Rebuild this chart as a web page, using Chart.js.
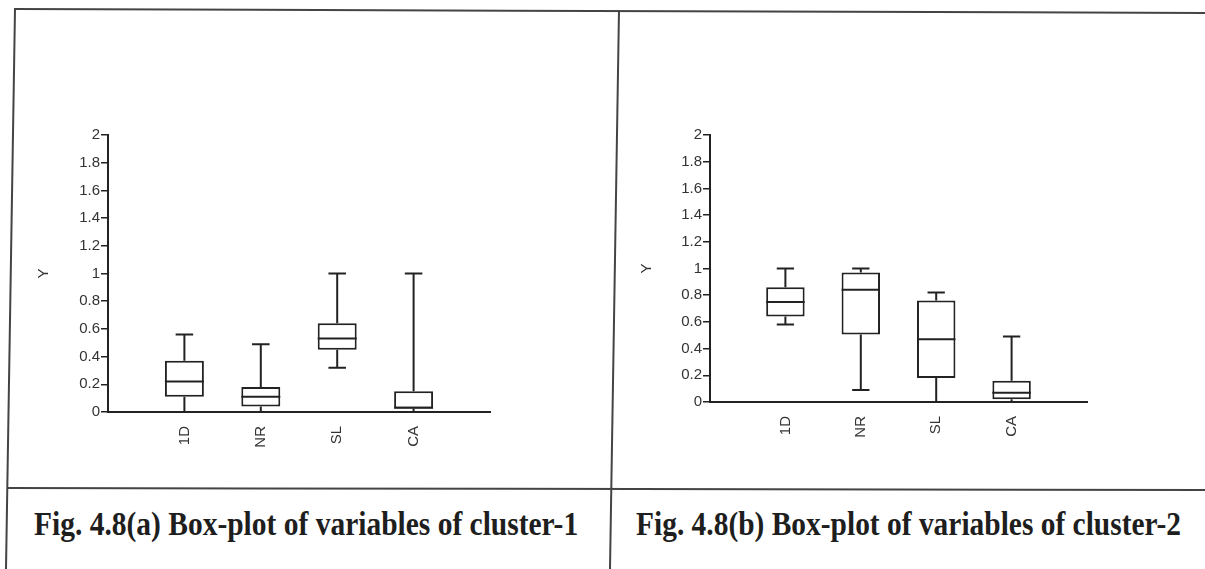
<!DOCTYPE html>
<html>
<head>
<meta charset="utf-8">
<script src="https://cdn.jsdelivr.net/npm/chart.js@4.4.1/dist/chart.umd.min.js"></script>
<style>
  html, body { margin: 0; padding: 0; background: #fff; }
  body { width: 1205px; height: 569px; position: relative; overflow: hidden; }
  canvas { position: absolute; }
  #frame { position: absolute; left: 0; top: 0; }
  .caption {
    position: absolute; top: 506px; line-height: 33px;
    font: bold 33px "Liberation Serif", "Times New Roman", serif;
    color: #1e1e1e; white-space: nowrap; transform-origin: 0 0;
  }
</style>
</head>
<body>
<svg id="frame" width="1205" height="569">
  <g stroke="#444" stroke-width="2" fill="none">
    <line x1="14" y1="9" x2="1205" y2="13"/>
    <line x1="15" y1="9" x2="6" y2="569"/>
    <line x1="619" y1="10" x2="610" y2="569"/>
    <line x1="8" y1="488" x2="1205" y2="490"/>
  </g>
</svg>

<canvas id="cluster-1" width="520" height="476" style="left:16px;top:11px"></canvas>
<canvas id="cluster-2" width="520" height="476" style="left:620px;top:11px"></canvas>

<div class="caption" style="left:34px" data-width="544">Fig. 4.8(a) Box-plot of variables of cluster-1</div>
<div class="caption" style="left:636px" data-width="545">Fig. 4.8(b) Box-plot of variables of cluster-2</div>

<script>
const categories = ["1D", "NR", "SL", "CA"];

// Five-number summaries, cluster-1
const c1Min    = [0,    0,    0.32, 0    ];
const c1Q1     = [0.11, 0.04, 0.45, 0.025];
const c1Median = [0.22, 0.11, 0.53, 0.03 ];
const c1Q3     = [0.37, 0.18, 0.64, 0.15 ];
const c1Max    = [0.56, 0.49, 1.0,  1.0  ];

// Five-number summaries, cluster-2
const c2Min    = [0.58, 0.09,  0,    0   ];
const c2Q1     = [0.64, 0.505, 0.18, 0.02];
const c2Median = [0.75, 0.84,  0.47, 0.07];
const c2Q3     = [0.86, 0.97,  0.76, 0.16];
const c2Max    = [1.0,  1.0,   0.82, 0.49];

const yMin = 0, yMax = 2, yStep = 0.2;

const ink = "#222";
const tickFont = {family: "'Liberation Sans', Arial, sans-serif", size: 15};

// Whiskers go under the boxes, medians on top of them.
const boxWhiskers = {
    id: "boxWhiskers",
    beforeDatasetsDraw(chart) {
        const {ctx} = chart;
        const y = chart.scales.y;
        const meta = chart.getDatasetMeta(0);
        const s = chart.config.data.datasets[0].stats;
        ctx.save();
        ctx.strokeStyle = ink;
        ctx.lineWidth = 2;
        meta.data.forEach((bar, i) => {
            const k = i - 1;
            if (k < 0 || k >= s.min.length) {
                return;
            }
            const cap = bar.width * 0.45;
            const segs = [[s.q3[k], s.max[k]], [s.q1[k], s.min[k]]];
            for (const [from, to] of segs) {
                ctx.beginPath();
                ctx.moveTo(bar.x, y.getPixelForValue(from));
                ctx.lineTo(bar.x, y.getPixelForValue(to));
                ctx.moveTo(bar.x - cap / 2, y.getPixelForValue(to));
                ctx.lineTo(bar.x + cap / 2, y.getPixelForValue(to));
                ctx.stroke();
            }
        });
        ctx.restore();
    },
    afterDatasetsDraw(chart) {
        const {ctx} = chart;
        const y = chart.scales.y;
        const meta = chart.getDatasetMeta(0);
        const s = chart.config.data.datasets[0].stats;
        ctx.save();
        ctx.strokeStyle = ink;
        ctx.lineWidth = 2;
        meta.data.forEach((bar, i) => {
            const k = i - 1;
            if (k < 0 || k >= s.median.length) {
                return;
            }
            const py = y.getPixelForValue(s.median[k]);
            ctx.beginPath();
            ctx.moveTo(bar.x - bar.width / 2, py);
            ctx.lineTo(bar.x + bar.width / 2, py);
            ctx.stroke();
        });
        ctx.restore();
    }
};

function boxChart(id, stats, pad, yWidth) {
    // Empty slots at both ends leave a gap between the axes and the boxes.
    const labels = ["", ...categories, ""];
    const boxes = [null, ...categories.map((c, i) => [stats.q1[i], stats.q3[i]]), null];

    new Chart(document.getElementById(id), {
        type: "bar",
        data: {
            labels: labels,
            datasets: [{
                data: boxes,
                stats: stats,
                backgroundColor: "#fff",
                borderColor: ink,
                borderWidth: 2,
                borderSkipped: false,
                categoryPercentage: 1,
                barPercentage: 0.51,
            }]
        },
        options: {
            responsive: false,
            animation: false,
            layout: {autoPadding: false, padding: pad},
            plugins: {legend: {display: false}, tooltip: {enabled: false}},
            scales: {
                x: {
                    offset: false,
                    grid: {display: false},
                    border: {color: ink, width: 2},
                    ticks: {
                        autoSkip: false, minRotation: 90, maxRotation: 90,
                        padding: 6, color: "#333", font: tickFont,
                    },
                    afterFit(scale) { scale.height = 50; },
                },
                y: {
                    min: yMin,
                    max: yMax,
                    ticks: {
                        stepSize: yStep,
                        padding: 1,
                        color: "#333",
                        font: tickFont,
                        callback: v => String(+v.toFixed(1)),
                    },
                    grid: {drawOnChartArea: false, tickLength: 7, color: ink, lineWidth: 1.5},
                    border: {color: ink, width: 2},
                    title: {display: true, text: "Y", color: "#333", font: tickFont, padding: {top: 3, bottom: 4}},
                    afterFit(scale) { scale.width = yWidth; },
                }
            }
        },
        plugins: [boxWhiskers],
    });
}

boxChart("cluster-1",
    {min: c1Min, q1: c1Q1, median: c1Median, q3: c1Q3, max: c1Max},
    {left: 16, top: 124, right: 46, bottom: 25}, 76);

boxChart("cluster-2",
    {min: c2Min, q1: c2Q1, median: c2Median, q3: c2Q3, max: c2Max},
    {left: 15, top: 124, right: 53, bottom: 35}, 75);

// Squeeze the captions to the column width.
document.querySelectorAll(".caption").forEach(el => {
    const target = Number(el.dataset.width);
    el.style.transform = "scaleX(" + (target / el.offsetWidth) + ")";
});
</script>
</body>
</html>
